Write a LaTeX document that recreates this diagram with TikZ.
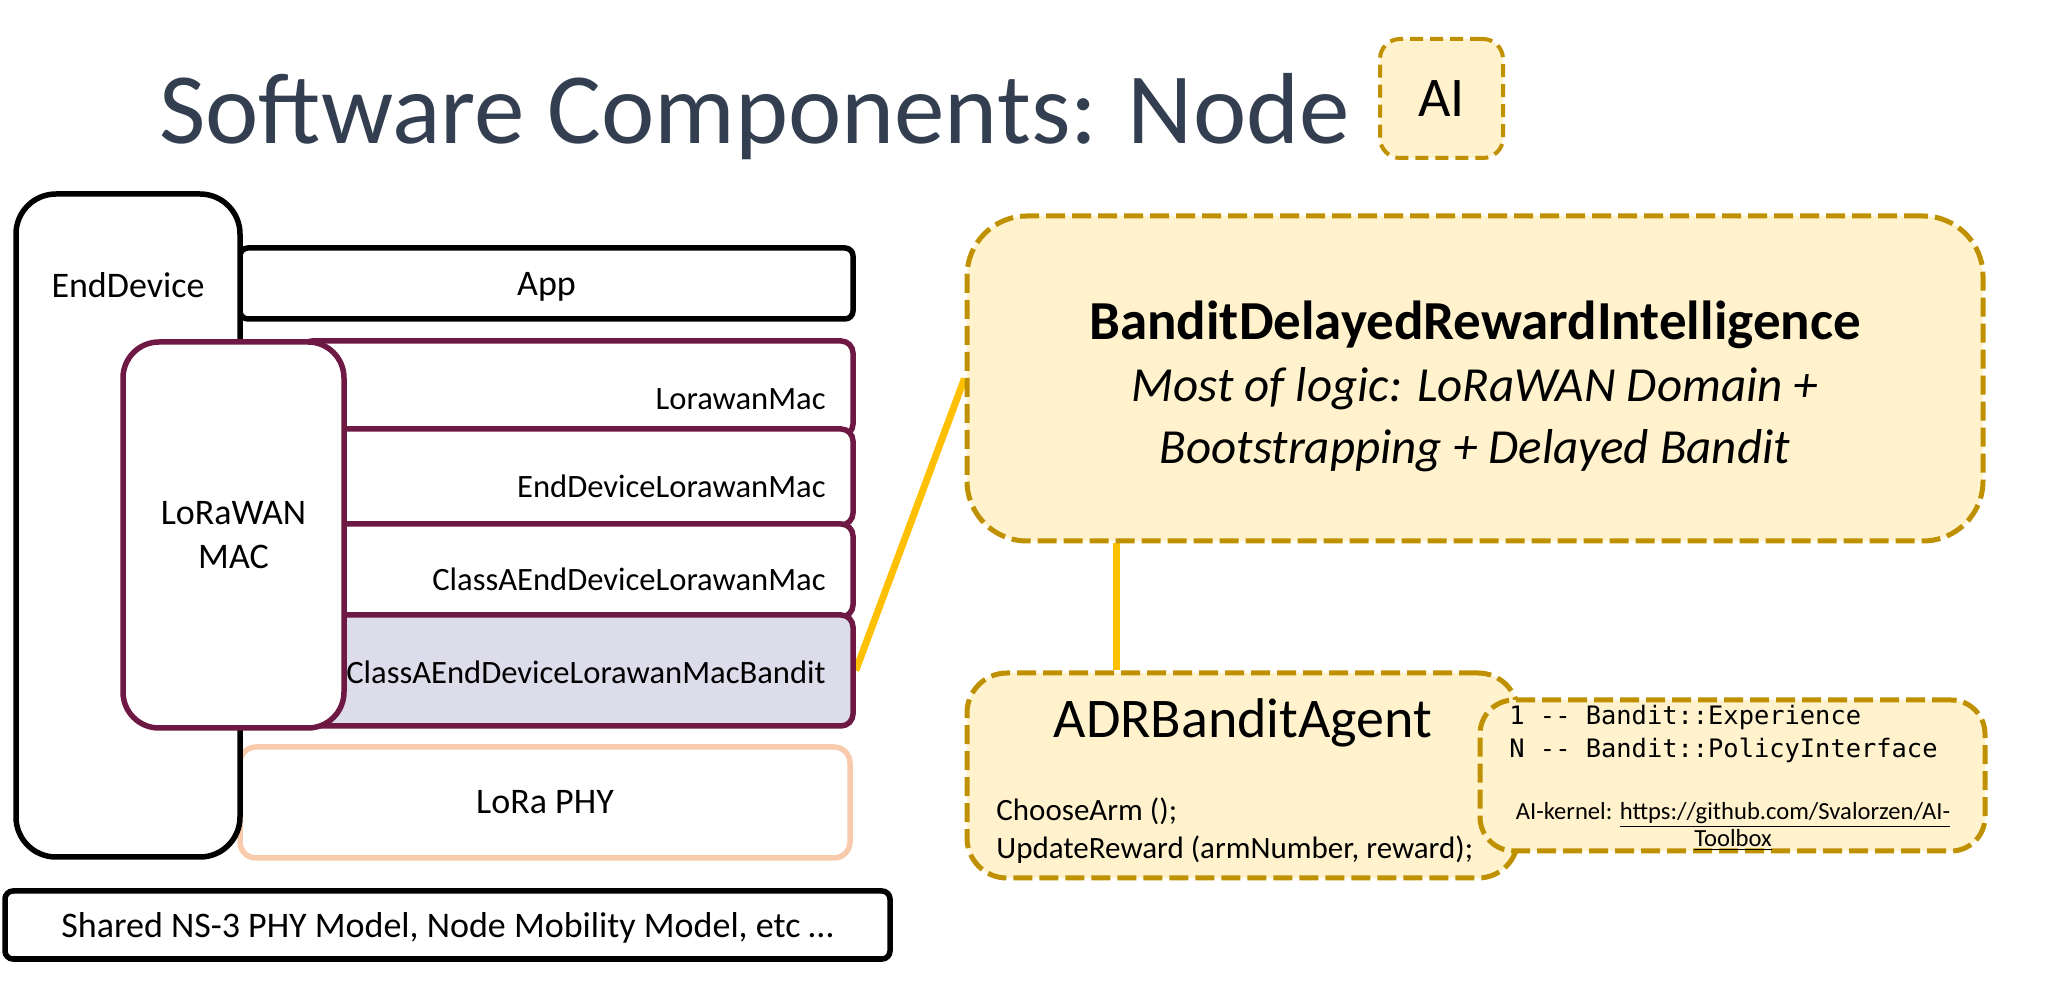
\documentclass[tikz,border=0pt]{standalone}
\usepackage{fontspec}
\setmainfont{Carlito}
\setmonofont{DejaVu Sans Mono}
\usetikzlibrary{backgrounds}

\definecolor{titleblue}{RGB}{51,63,80}
\definecolor{macpurple}{RGB}{110,24,68}
\definecolor{banditlav}{RGB}{220,220,235}
\definecolor{phypeach}{RGB}{248,203,173}
\definecolor{aigold}{RGB}{191,144,0}
\definecolor{aifill}{RGB}{255,242,204}
\definecolor{linkyellow}{RGB}{255,192,0}

\newcommand{\setsz}[2]{\fontsize{#1}{#2}\selectfont}

\begin{document}
\begin{tikzpicture}[x=0.5pt, y=-0.5pt,
  blackbox/.style={draw=black, line width=2.75pt, fill=white},
  macbox/.style={draw=macpurple, line width=2.75pt, fill=white, rounded corners=6pt, minimum width=276.5pt},
  aibox/.style={draw=aigold, fill=aifill, line width=2.5pt, dash pattern=on 9.5pt off 3.5pt},
  yellowline/.style={draw=linkyellow, line width=3.5pt},
  lbl/.style={font=\setsz{18pt}{22pt}, align=center},
  maclbl/.style={font=\setsz{16.3pt}{19pt}, anchor=east, inner sep=0pt}]

\useasboundingbox (0,0) rectangle (2057,1004);

% title
\node[anchor=base west, inner sep=0pt, text=titleblue, font=\setsz{50.5pt}{60pt}] (title) at (159,144) {Software Components: Node};
\node[aibox, line width=2pt, dash pattern=on 6.5pt off 3.5pt, rounded corners=10pt, minimum width=61.5pt, minimum height=59.5pt, font=\setsz{28pt}{32pt}] (ai) at (1441.5,98.5) {AI};

% left stack
\node[blackbox, rounded corners=4pt, minimum width=306.5pt, minimum height=35.5pt, text depth=0pt, lbl] (app) at (546.5,283.5) {App};
\node[blackbox, draw=phypeach, rounded corners=8pt, minimum width=305pt, minimum height=55.5pt, lbl] (phy) at (545,802.5) {LoRa PHY};
\node[blackbox, rounded corners=20pt, minimum width=112pt, minimum height=331.5pt] (enddev) at (128,525.5) {};
\node[lbl] (enddevtxt) at (128,285) {EndDevice};

% mac layers
\node[macbox, minimum height=47.5pt] (lmac) at (576.5,388.5) {};
\node[macbox, minimum height=48pt] (edmac) at (576.5,477) {};
\node[macbox, minimum height=46.5pt] (camac) at (576.5,570.5) {};
\node[macbox, fill=banditlav, minimum height=55.5pt] (bandit) at (576.5,670.5) {};
\node[maclbl] (lmactxt) at (826,399) {LorawanMac};
\node[maclbl] (edmactxt) at (826,486) {EndDeviceLorawanMac};
\node[maclbl] (camactxt) at (826,579) {ClassAEndDeviceLorawanMac};
\node[maclbl] (bandittxt) at (826,672) {ClassAEndDeviceLorawanMacBandit};
\node[draw=macpurple, line width=2.75pt, fill=white, rounded corners=18pt, minimum width=110.5pt, minimum height=193pt, lbl] (lorawan) at (233.5,535) {LoRaWAN\\MAC};

\node[blackbox, rounded corners=4pt, minimum width=442.5pt, minimum height=34pt, text depth=0pt, lbl] (shared) at (447.5,925) {Shared NS-3 PHY Model, Node Mobility Model, etc …};

% AI side
\node[aibox, rounded corners=30pt, minimum width=508pt, minimum height=162.5pt] (intel) at (1475,378.5) {};
\node[align=center, inner sep=0pt, font=\itshape\setsz{24.5pt}{31pt}] (inteltxt) at (1475,386) {{\upshape\bfseries\setsz{27.5pt}{31pt}BanditDelayedRewardIntelligence}\\Most of logic: LoRaWAN Domain +\\Bootstrapping + Delayed Bandit};

\node[aibox, rounded corners=20pt, minimum width=275.5pt, minimum height=102.5pt] (adr) at (1242.5,775.5) {};
\node[inner sep=0pt, font=\setsz{28pt}{32pt}] (adrtxt) at (1243,723) {ADRBanditAgent};
\node[anchor=west, align=left, inner sep=0pt, font=\setsz{15.5pt}{19pt}] (adrcalls) at (996,831) {ChooseArm ();\\UpdateReward (armNumber, reward);};

\node[aibox, rounded corners=17pt, minimum width=252.5pt, minimum height=75.5pt] (exp) at (1732.5,775.5) {};
\node[anchor=west, align=left, inner sep=0pt, font=\ttfamily\setsz{12.7pt}{16.5pt}] (exptxt) at (1509,733.5) {1 -{}- Bandit::Experience\\N -{}- Bandit::PolicyInterface};
\node[align=center, inner sep=0pt, font=\setsz{12.3pt}{13.5pt}] (kernel) at (1733,826.5) {AI-kernel: \underline{https://github.com/Svalorzen/AI-}\\\underline{Toolbox}};

% links
\coordinate (tap) at ([xshift=76pt]intel.south west);
\begin{scope}[on background layer]
\draw[yellowline] (bandit.east) -- (intel.west);
\draw[yellowline] (tap) -- (tap |- adr.north);
\end{scope}
\end{tikzpicture}
\end{document}
